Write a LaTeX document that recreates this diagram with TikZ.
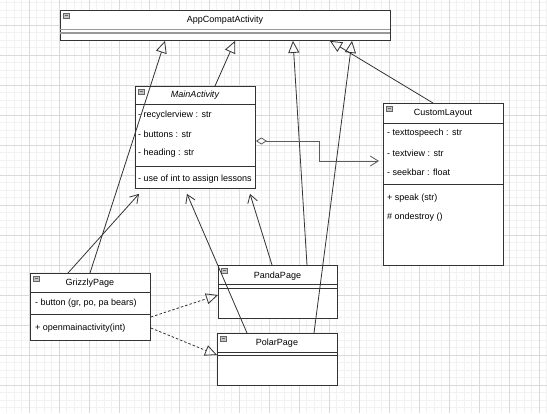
\documentclass[tikz,border=0pt]{standalone}
\usepackage{fontspec}
\setmainfont{Liberation Sans}
\usetikzlibrary{arrows.meta,calc}
\definecolor{linec}{HTML}{333333}
\definecolor{gridminor}{HTML}{F2F2F2}
\definecolor{gridmajor}{HTML}{DADADA}
\definecolor{sepgray}{HTML}{999999}
\definecolor{iconfill}{HTML}{C4C4C4}
\definecolor{icondraw}{HTML}{666666}
\tikzset{
  clsbox/.style={draw=linec, line width=0.9pt, fill=white, anchor=north west, inner sep=0pt},
  ttl/.style={inner sep=0pt, font=\fontsize{9}{10}\selectfont, text=black},
  fld/.style={inner sep=0pt, anchor=west, font=\fontsize{9}{10}\selectfont, text=black},
  sepline/.style={draw=linec, line width=0.9pt},
  inh/.style={draw=linec, line width=0.8pt, -{Triangle[open, length=12pt, width=11pt, line width=0.8pt]}},
  dep/.style={draw=linec, line width=0.8pt, -{Straight Barb[length=8pt, width=10pt, line width=0.8pt]}},
  agg/.style={draw=linec!80, line width=1pt, {Diamond[open, length=11pt, width=7pt, line width=0.8pt]}-{Straight Barb[length=8pt, width=10pt, line width=0.8pt]}},
  real/.style={draw=linec, line width=0.8pt, dash pattern=on 2.5pt off 2pt, -{Triangle[open, length=12pt, width=11pt, line width=0.8pt, sep=0pt]}},
  minusicon/.pic={
    \filldraw[fill=iconfill, draw=icondraw, line width=0.5pt] (0,0) rectangle (6,5);
    \draw[icondraw, line width=0.7pt] (1.5,2.5) -- (4.5,2.5);
  }
}
\begin{document}
\begin{tikzpicture}[x=1pt, y=-1pt]
\useasboundingbox (0,0) rectangle (547,413);
\fill[white] (0,0) rectangle (547,413);
% grid
\foreach \g in {-1,6.5,...,547} \draw[gridminor, line width=0.6pt] (\g,0) -- (\g,413);
\foreach \g in {-5,2.5,...,413} \draw[gridminor, line width=0.6pt] (0,\g) -- (547,\g);
\foreach \g in {29,59,...,547} \draw[gridmajor, line width=0.7pt] (\g,0) -- (\g,413);
\foreach \g in {25,55,...,413} \draw[gridmajor, line width=0.7pt] (0,\g) -- (547,\g);

% AppCompatActivity
\node[clsbox, minimum width=330pt, minimum height=30pt] (app) at (60,10) {};
\draw[sepgray, line width=1.4pt] (60,29.5) -- (390,29.5);
\draw[sepgray, line width=1.4pt] (60,33) -- (390,33);
\pic at ([xshift=3pt,yshift=-3pt]app.north west) {minusicon};
\node[ttl] (appT) at (225,20.5) {AppCompatActivity};

% MainActivity
\node[clsbox, minimum width=120pt, minimum height=102pt] (main) at (135,86) {};
\draw[sepline] (135,104) -- (255,104);
\draw[sepline] (135,166) -- (255,166);
\pic at ([xshift=3pt,yshift=-3pt]main.north west) {minusicon};
\node[ttl, font=\fontsize{9}{10}\selectfont\itshape] (mainT) at (195,95.5) {MainActivity};
\node[fld] (m1) at (138,115) {- recyclerview : str};
\node[fld] (m2) at (138,134) {- buttons : str};
\node[fld] (m3) at (138,153) {- heading : str};
\node[fld] (m4) at (138,179) {- use of int to assign lessons};

% CustomLayout
\node[clsbox, minimum width=120pt, minimum height=162pt] (cust) at (383,103) {};
\draw[sepline] (383,123) -- (503,123);
\draw[sepline] (383,184) -- (503,184);
\pic at ([xshift=3pt,yshift=-3pt]cust.north west) {minusicon};
\node[ttl] (custT) at (443,113.5) {CustomLayout};
\node[fld] (c1) at (387,133) {- texttospeech : str};
\node[fld] (c2) at (387,153) {- textview : str};
\node[fld] (c3) at (387,172) {- seekbar : float};
\node[fld] (c4) at (387,198) {+ speak (str)};
\node[fld] (c5) at (387,217) {\# ondestroy ()};

% GrizzlyPage
\node[clsbox, minimum width=120pt, minimum height=67pt] (grz) at (30,273) {};
\draw[sepline] (30,292) -- (150,292);
\draw[sepline] (30,314) -- (150,314);
\pic at ([xshift=3pt,yshift=-3pt]grz.north west) {minusicon};
\node[ttl] (grzT) at (90,283) {GrizzlyPage};
\node[fld] (g1) at (35,303) {- button (gr, po, pa bears)};
\node[fld] (g2) at (35,328) {+ openmainactivity(int)};

% PandaPage
\node[clsbox, minimum width=119pt, minimum height=53pt] (panda) at (218,265) {};
\draw[sepline] (218,284) -- (337,284);
\draw[sepline] (218,288) -- (337,288);
\pic at ([xshift=3pt,yshift=-3pt]panda.north west) {minusicon};
\node[ttl] (pandaT) at (277.5,276) {PandaPage};

% PolarPage
\node[clsbox, minimum width=120pt, minimum height=52pt] (polar) at (217,333) {};
\draw[sepline] (217,352) -- (337,352);
\draw[sepline] (217,355.5) -- (337,355.5);
\pic at ([xshift=3pt,yshift=-3pt]polar.north west) {minusicon};
\node[ttl] (polarT) at (277,343.5) {PolarPage};

% inheritance to AppCompatActivity
\draw[inh] ([xshift=60pt]grz.north west) -- ([xshift=105pt]app.south west);
\draw[inh] ([xshift=80pt]main.north west) -- ([xshift=175pt]app.south west);
\draw[inh] ([xshift=89pt]panda.north west) -- ([xshift=233pt]app.south west);
\draw[inh] ([xshift=50pt]cust.north west) -- ([xshift=270pt]app.south west);
\draw[inh] ([xshift=97pt]polar.north west) -- ([xshift=292pt]app.south west);

% dependencies to MainActivity
\draw[dep] ([xshift=38pt]grz.north west) -- ([xshift=4pt,yshift=-5pt]main.south west);
\draw[dep] ([xshift=54pt]panda.north west) -- ([xshift=115pt,yshift=-5pt]main.south west);
\draw[dep] ([xshift=30pt]polar.north west) -- ([xshift=52pt,yshift=-5pt]main.south west);

% aggregation MainActivity -> CustomLayout
\draw[agg] ([yshift=-55pt]main.north east) -- ++(64,0) |- ([xshift=-4pt,yshift=-58pt]cust.north west);

% realizations
\draw[real] ([yshift=-44pt]grz.north east) -- ([yshift=-30pt]panda.north west);
\draw[real] ([yshift=-55pt]grz.north east) -- ([yshift=-22pt]polar.north west);
\end{tikzpicture}
\end{document}
